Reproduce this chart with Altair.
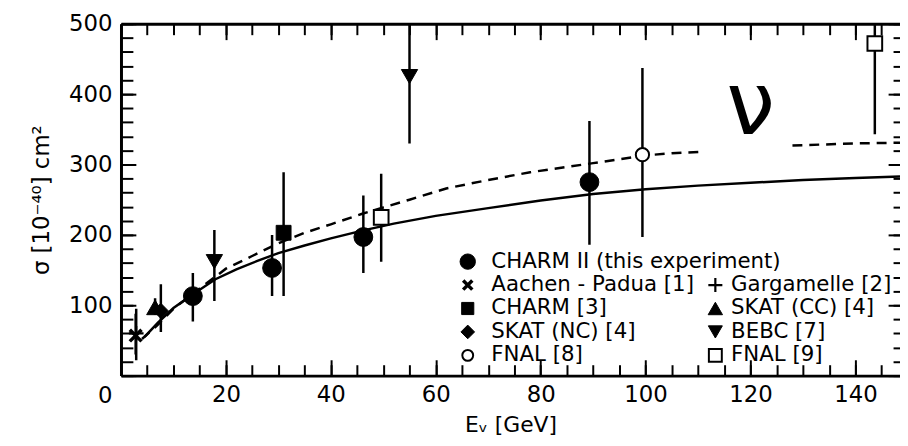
import altair as alt
import pandas as pd

# ---------------- data ----------------
SERIES = ["CHARM II (this experiment)", "Aachen - Padua [1]", "CHARM [3]",
          "SKAT (NC) [4]", "FNAL [8]", "Gargamelle [2]", "SKAT (CC) [4]",
          "BEBC [7]", "FNAL [9]"]

PT_SERIES = ["CHARM II (this experiment)", "CHARM II (this experiment)",
             "CHARM II (this experiment)", "CHARM II (this experiment)",
             "Aachen - Padua [1]", "Gargamelle [2]", "SKAT (CC) [4]",
             "SKAT (NC) [4]", "CHARM [3]", "BEBC [7]", "BEBC [7]",
             "FNAL [8]", "FNAL [9]", "FNAL [9]"]
PT_E = [13.7, 28.8, 46.2, 89.3, 2.8, 2.9, 6.5, 7.6, 31.0, 17.8, 55.0, 99.4, 49.6, 143.7]
PT_SIGMA = [113, 153, 197, 275, 57, 60, 97, 92, 203, 162, 425, 314, 225, 472]
PT_LO = [77, 113, 146, 186, 30, 22, 86, 62, 113, 106, 330, 197, 162, 343]
PT_HI = [146, 200, 256, 362, 88, 95, 110, 130, 289, 207, 540, 437, 287, 600]

SOLID_E = [4.5, 7, 10, 14, 18, 22, 26, 30, 35, 40, 46, 52, 60, 70, 80, 90,
           100, 110, 120, 130, 140, 148.5]
SOLID_SIGMA = [55, 75, 96, 117, 137, 151, 163, 174, 185, 195, 206, 216, 227,
               238, 249, 258, 265, 270, 274, 278, 281, 283]

DASH_E = [4, 7, 10, 14, 20, 25, 30, 35, 40, 46, 50, 55, 62, 70, 78, 90, 100,
          105, 111, 128, 140, 148.5]
DASH_SIGMA = [52, 72, 95, 118, 152, 170, 188, 203, 215, 230, 239, 250, 266,
              278, 289, 302, 313, 316, 318, 327, 330, 331]
DASH_SEG = [0] * 19 + [1] * 3

X_MAJOR = [20, 40, 60, 80, 100, 120, 140]
X_MINOR = list(range(0, 150, 5))
Y_MAJOR = [0, 100, 200, 300, 400, 500]
Y_MINOR = list(range(0, 501, 20))

NU_TEXT = ["ν"]
NU_E = [120.0]
NU_SIGMA = [343]

# ---------------- styles / layout ----------------
SHAPES = ["circle", "M-1,-1L1,1M-1,1L1,-1", "square", "diamond", "circle",
          "M-1,0L1,0M0,-1L0,1", "triangle-up", "triangle-down", "square"]
FILLS = ["black", "black", "black", "black", "white", "black", "black",
         "black", "white"]
SIZES = [360, 140, 225, 230, 180, 220, 290, 270, 220]
LEG_SIZES = [240, 85, 150, 190, 120, 200, 210, 200, 170]
STROKEW = [1, 3.5, 1, 1, 2, 2.2, 1, 1, 2]

LEG_COL = [0, 0, 0, 0, 0, 1, 1, 1, 1]
LEG_ROW = [0, 1, 2, 3, 4, 1, 2, 3, 4]
LEG_MARK_E = [66.1, 113.3]
LEG_TEXT_E = [70.6, 116.3]
LEG_TOP = 162.0
LEG_STEP = 33.3

FONT = "DejaVu Sans"
W, H = 786, 355

pts = pd.DataFrame({"series": PT_SERIES, "E": PT_E, "sigma": PT_SIGMA,
                    "lo": PT_LO, "hi": PT_HI})
solid = pd.DataFrame({"E": SOLID_E, "sigma": SOLID_SIGMA})
dash = pd.DataFrame({"E": DASH_E, "sigma": DASH_SIGMA, "seg": DASH_SEG})
leg = pd.DataFrame({
    "series": SERIES,
    "mx": [LEG_MARK_E[c] for c in LEG_COL],
    "tx": [LEG_TEXT_E[c] for c in LEG_COL],
    "ly": [LEG_TOP - r * LEG_STEP for r in LEG_ROW],
})
nu = pd.DataFrame({"t": NU_TEXT, "E": NU_E, "sigma": NU_SIGMA})

xs = alt.Scale(domain=[0, 148.5], nice=False, zero=False)
ys = alt.Scale(domain=[0, 500], nice=False, zero=False)


def tick_axis(orient, values, size, labels=False, title=None, **kw):
    return alt.Axis(orient=orient, values=values, tickSize=size, offset=-size,
                    ticks=True, tickWidth=2, tickColor="black", domain=False,
                    grid=False, labels=labels, title=title, **kw)


def dom_axis(orient):
    return alt.Axis(orient=orient, ticks=False, labels=False, domain=True,
                    domainWidth=3, domainColor="black", grid=False, title=None)


x_bot_major = tick_axis("bottom", X_MAJOR, 16, labels=True, title="Eᵥ [GeV]",
                        labelPadding=8, labelFontSize=23, labelFont=FONT,
                        labelColor="black", titleFont=FONT, titleFontSize=22,
                        titleFontWeight="normal", titleColor="black",
                        titlePadding=8)
x_bot_minor = tick_axis("bottom", X_MINOR, 11)
x_top_major = tick_axis("top", X_MAJOR, 16)
x_top_minor = tick_axis("top", X_MINOR, 11)

y_left_major = tick_axis(
    "left", Y_MAJOR, 15, labels=True, title="σ [10⁻⁴⁰] cm²", labelPadding=9,
    labelFontSize=23, labelFont=FONT, labelColor="black",
    labelOffset={"condition": {"test": "datum.value === 0", "value": 20}, "value": 0},
    titleFont=FONT, titleFontSize=23, titleFontWeight="normal",
    titleColor="black", titlePadding=15)
y_left_minor = tick_axis("left", Y_MINOR, 12)
y_right_major = tick_axis("right", Y_MAJOR, 12)
y_right_minor = tick_axis("right", Y_MINOR, 7)

shape_enc = alt.Shape("series:N", scale=alt.Scale(domain=SERIES, range=SHAPES), legend=None)
fill_enc = alt.Fill("series:N", scale=alt.Scale(domain=SERIES, range=FILLS), legend=None)
sw_enc = alt.StrokeWidth("series:N", scale=alt.Scale(type="ordinal", domain=SERIES, range=STROKEW),
                         legend=None)

solid_layer = alt.Chart(solid).mark_line(color="black", strokeWidth=2.5).encode(
    x=alt.X("E:Q", scale=xs, axis=x_bot_major),
    y=alt.Y("sigma:Q", scale=ys, axis=y_left_major),
)
dash_layer = alt.Chart(dash).mark_line(color="black", strokeWidth=2.5,
                                       strokeDash=[10, 7]).encode(
    x=alt.X("E:Q", scale=xs, axis=x_bot_minor),
    y=alt.Y("sigma:Q", scale=ys, axis=y_left_minor),
    detail="seg:N",
)
err_layer = alt.Chart(pts).mark_rule(color="black", strokeWidth=2.5, clip=True).encode(
    x=alt.X("E:Q", scale=xs, axis=x_top_major),
    y=alt.Y("lo:Q", scale=ys, axis=y_right_major),
    y2="hi:Q",
)
pt_layer = alt.Chart(pts).mark_point(filled=True, stroke="black", opacity=1).encode(
    x=alt.X("E:Q", scale=xs, axis=x_top_minor),
    y=alt.Y("sigma:Q", scale=ys, axis=y_right_minor),
    shape=shape_enc, fill=fill_enc, strokeWidth=sw_enc,
    size=alt.Size("series:N", scale=alt.Scale(type="ordinal", domain=SERIES, range=SIZES),
                  legend=None),
)
leg_pts = alt.Chart(leg).mark_point(filled=True, stroke="black", opacity=1).encode(
    x=alt.X("mx:Q", scale=xs, axis=dom_axis("bottom")),
    y=alt.Y("ly:Q", scale=ys, axis=dom_axis("left")),
    shape=shape_enc, fill=fill_enc, strokeWidth=sw_enc,
    size=alt.Size("series:N", scale=alt.Scale(type="ordinal", domain=SERIES, range=LEG_SIZES),
                  legend=None),
)
leg_txt = alt.Chart(leg).mark_text(align="left", baseline="middle", font=FONT,
                                   fontSize=21.5, color="black").encode(
    x=alt.X("tx:Q", scale=xs, axis=dom_axis("top")),
    y=alt.Y("ly:Q", scale=ys, axis=None),
    text="series:N",
)
nu_layer = alt.Chart(nu).mark_text(align="center", baseline="alphabetic",
                                   font=FONT, fontSize=88, color="black").encode(
    x=alt.X("E:Q", scale=xs, axis=None),
    y=alt.Y("sigma:Q", scale=ys, axis=None),
    text="t:N",
)

chart = (
    alt.layer(solid_layer, dash_layer, err_layer, pt_layer, leg_pts, leg_txt, nu_layer)
    .resolve_axis(x="independent", y="independent")
    .resolve_scale(size="independent")
    .properties(width=W, height=H, background="white",
                padding={"left": 114, "top": 14, "right": 0, "bottom": 60},
                autosize=alt.AutoSizeParams(type="none"))
    .configure_view(strokeWidth=0)
)

chart.save("out.html", embed_options={"renderer": "svg", "actions": False})
